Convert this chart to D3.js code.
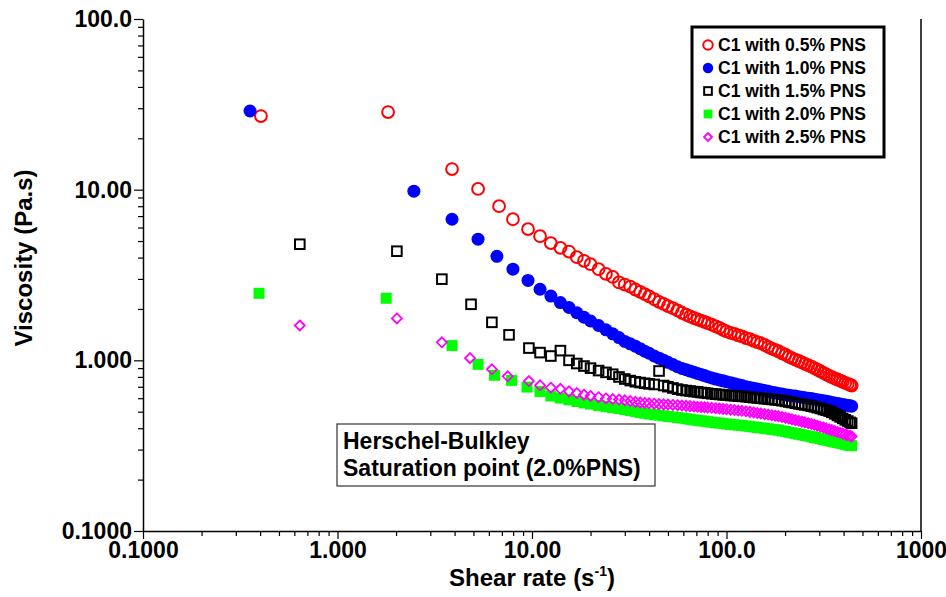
<!DOCTYPE html>
<html>
<head>
<meta charset="utf-8">
<script src="https://d3js.org/d3.v7.min.js"></script>
<style>
  body { margin: 0; background: #fff; }
  text { font-family: "Liberation Sans", Arial, sans-serif; font-weight: bold; fill: #000; }
</style>
</head>
<body>
<svg id="chart"></svg>
<script>
var W = 946, H = 597;
var plotLeft = 143, plotRight = 921, plotTop = 19, plotBottom = 531;

// axis ticks and labels
var xTicks = [0.1, 1, 10, 100, 1000];
var xTickLabels = ["0.1000", "1.000", "10.00", "100.0", "1000"];
var yTicks = [0.1, 1, 10, 100];
var yTickLabels = ["0.1000", "1.000", "10.00", "100.0"];

var seriesNames = ["C1 with 0.5% PNS", "C1 with 1.0% PNS", "C1 with 1.5% PNS", "C1 with 2.0% PNS", "C1 with 2.5% PNS"];
var seriesColors = ["#ff0000", "#0000ff", "#000000", "#00ff00", "#ff00ff"];

// low shear-rate points, read per series
var lowRate05 = [0.404, 1.82, 3.88, 5.28, 6.77, 7.98, 9.54];
var lowVisc05 = [27.0, 28.5, 13.2, 10.1, 8.0, 6.71, 5.87];
var lowRate10 = [0.355, 2.47, 3.88, 5.28, 6.6, 7.98, 9.54];
var lowVisc10 = [28.9, 9.8, 6.71, 5.13, 4.07, 3.42, 2.94];
var lowRate15 = [0.64, 2.02, 3.44, 4.86, 6.22, 7.62, 9.64];
var lowVisc15 = [4.79, 4.36, 2.99, 2.13, 1.67, 1.41, 1.18];
var lowRate20 = [0.395, 1.78, 3.88, 5.28, 6.41, 7.85, 9.43];
var lowVisc20 = [2.47, 2.31, 1.22, 0.947, 0.817, 0.763, 0.697];
var lowRate25 = [0.64, 2.02, 3.44, 4.80, 6.22, 7.5, 9.64];
var lowVisc25 = [1.60, 1.76, 1.275, 1.03, 0.886, 0.806, 0.756];

// dense part of the sweep (shear rate, 1/s)
var denseRate = [11, 12.5, 14, 15.5, 17, 18.5, 20, 22, 24, 26, 28, 30, 32, 34, 36, 38, 40,
  42.5, 45, 47.5, 50, 53, 56, 59, 62, 65, 68, 71, 74, 77, 80, 84, 88, 92, 96, 100,
  105, 110, 115, 120, 126, 132, 138, 144, 150, 157, 164, 171, 178, 185, 193, 201, 209, 217,
  226, 235, 244, 253, 263, 273, 283, 293, 304, 315, 326, 337, 348, 360, 372, 384, 396, 408, 420, 432, 440];

var visc05 = [5.34, 4.86, 4.56, 4.34, 4.02, 3.83, 3.66, 3.42, 3.21, 3.08, 2.86, 2.78, 2.70, 2.60, 2.52, 2.44, 2.37,
  2.28, 2.20, 2.14, 2.08, 2.02, 1.96, 1.90, 1.85, 1.81, 1.77, 1.74, 1.71, 1.68, 1.65, 1.62, 1.58, 1.55, 1.51, 1.48,
  1.45, 1.43, 1.40, 1.38, 1.35, 1.33, 1.30, 1.28, 1.26, 1.23, 1.20, 1.17, 1.15, 1.13, 1.10, 1.08, 1.05, 1.03,
  1.01, 0.991, 0.972, 0.954, 0.936, 0.918, 0.901, 0.882, 0.863, 0.845, 0.828, 0.811, 0.797, 0.784, 0.772, 0.760, 0.749, 0.738, 0.728, 0.718, 0.712];
var visc10 = [2.61, 2.38, 2.18, 2.04, 1.90, 1.79, 1.70, 1.60, 1.51, 1.43, 1.36, 1.29, 1.25, 1.21, 1.17, 1.13, 1.10,
  1.06, 1.03, 1.00, 0.973, 0.945, 0.917, 0.897, 0.881, 0.865, 0.852, 0.838, 0.826, 0.814, 0.802, 0.789, 0.777, 0.767, 0.758, 0.749,
  0.739, 0.729, 0.720, 0.712, 0.701, 0.694, 0.686, 0.679, 0.672, 0.665, 0.658, 0.651, 0.645, 0.639, 0.634, 0.629, 0.625, 0.621,
  0.617, 0.612, 0.608, 0.604, 0.600, 0.597, 0.592, 0.588, 0.583, 0.579, 0.575, 0.571, 0.567, 0.563, 0.559, 0.555, 0.551, 0.547, 0.544, 0.541, 0.539];
var visc15 = [1.11, 1.06, 1.14, 1.00, 0.958, 0.926, 0.900, 0.871, 0.850, 0.829, 0.799, 0.777, 0.761, 0.749, 0.741, 0.734, 0.728,
  0.722, 0.866, 0.712, 0.701, 0.689, 0.678, 0.670, 0.665, 0.661, 0.656, 0.653, 0.648, 0.645, 0.641, 0.637, 0.634, 0.631, 0.628, 0.626,
  0.622, 0.620, 0.617, 0.615, 0.612, 0.608, 0.605, 0.602, 0.599, 0.596, 0.593, 0.590, 0.587, 0.584, 0.580, 0.575, 0.570, 0.566,
  0.561, 0.556, 0.552, 0.548, 0.544, 0.539, 0.534, 0.528, 0.522, 0.515, 0.510, 0.504, 0.496, 0.486, 0.475, 0.466, 0.457, 0.448, 0.441, 0.433, 0.428];
var visc20 = [0.657, 0.618, 0.601, 0.587, 0.574, 0.563, 0.554, 0.543, 0.535, 0.528, 0.522, 0.515, 0.508, 0.502, 0.495, 0.490, 0.485,
  0.481, 0.477, 0.473, 0.469, 0.466, 0.462, 0.459, 0.455, 0.451, 0.448, 0.445, 0.442, 0.440, 0.437, 0.434, 0.431, 0.429, 0.426, 0.424,
  0.421, 0.419, 0.417, 0.415, 0.412, 0.410, 0.407, 0.404, 0.402, 0.399, 0.397, 0.394, 0.392, 0.390, 0.386, 0.383, 0.379, 0.376,
  0.373, 0.369, 0.366, 0.363, 0.360, 0.357, 0.353, 0.350, 0.347, 0.344, 0.341, 0.338, 0.335, 0.332, 0.330, 0.327, 0.325, 0.322, 0.319, 0.317, 0.316];
var visc25 = [0.714, 0.691, 0.681, 0.658, 0.643, 0.629, 0.618, 0.608, 0.598, 0.593, 0.589, 0.583, 0.577, 0.571, 0.567, 0.563, 0.560,
  0.557, 0.554, 0.552, 0.551, 0.548, 0.546, 0.543, 0.541, 0.539, 0.537, 0.534, 0.533, 0.531, 0.529, 0.527, 0.524, 0.522, 0.519, 0.517,
  0.514, 0.511, 0.508, 0.506, 0.503, 0.499, 0.495, 0.491, 0.488, 0.484, 0.481, 0.477, 0.474, 0.471, 0.466, 0.461, 0.456, 0.451,
  0.446, 0.442, 0.437, 0.433, 0.428, 0.424, 0.419, 0.414, 0.408, 0.404, 0.399, 0.394, 0.390, 0.385, 0.380, 0.376, 0.372, 0.368, 0.364, 0.361, 0.358];

function makeSeries(lowRate, lowVisc, dense) {
  var xs = lowRate.concat(denseRate), ys = lowVisc.concat(dense);
  return d3.range(Math.min(xs.length, ys.length)).map(function(i) { return {x: xs[i], y: ys[i]}; });
}
var series = [
  makeSeries(lowRate05, lowVisc05, visc05),
  makeSeries(lowRate10, lowVisc10, visc10),
  makeSeries(lowRate15, lowVisc15, visc15),
  makeSeries(lowRate20, lowVisc20, visc20),
  makeSeries(lowRate25, lowVisc25, visc25)
];

var svg = d3.select("#chart").attr("width", W).attr("height", H);

var x = d3.scaleLog().domain([0.1, 1000]).range([plotLeft, plotRight]);
var y = d3.scaleLog().domain([0.1, 100]).range([plotBottom, plotTop]);

// marker drawing, one style per series
function drawMarker(g, i, s) {
  var c = seriesColors[i];
  if (i === 0) g.append("circle").attr("r", 5.9 * s).attr("fill", "none").attr("stroke", c).attr("stroke-width", 2);
  else if (i === 1) g.append("circle").attr("r", 6.5 * s).attr("fill", c);
  else if (i === 2) g.append("rect").attr("x", -4.8 * s).attr("y", -4.8 * s).attr("width", 9.6 * s).attr("height", 9.6 * s)
    .attr("fill", "none").attr("stroke", c).attr("stroke-width", 2);
  else if (i === 3) g.append("rect").attr("x", -5.5 * s).attr("y", -5.5 * s).attr("width", 11 * s).attr("height", 11 * s).attr("fill", c);
  else g.append("path").attr("d", "M0," + (-5 * s) + "L" + (5 * s) + ",0L0," + (5 * s) + "L" + (-5 * s) + ",0Z")
    .attr("fill", "none").attr("stroke", c).attr("stroke-width", 1.8);
}

// data
series.forEach(function(pts, i) {
  svg.append("g").selectAll("g")
    .data(pts)
    .enter().append("g")
    .attr("transform", function(d) { return "translate(" + x(d.x) + "," + y(d.y) + ")"; })
    .each(function() { drawMarker(d3.select(this), i, 1); });
});

// axes
var axisColor = "#000";
var xMinor = x.ticks().filter(function(v) { return xTicks.indexOf(v) < 0; });
var yMinor = y.ticks().filter(function(v) { return yTicks.indexOf(v) < 0; });

var gx = svg.append("g").attr("transform", "translate(0," + plotBottom + ")");
gx.call(d3.axisBottom(x).tickValues(xTicks).tickSize(8).tickSizeOuter(0).tickPadding(3)
  .tickFormat(function(d, i) { return xTickLabels[i]; }));
gx.append("g").call(d3.axisBottom(x).tickValues(xMinor).tickSize(5).tickFormat("")).select(".domain").remove();

var gy = svg.append("g").attr("transform", "translate(" + plotLeft + ",0)");
gy.call(d3.axisLeft(y).tickValues(yTicks).tickSize(9).tickSizeOuter(0).tickPadding(2)
  .tickFormat(function(d, i) { return yTickLabels[i]; }));
gy.append("g").call(d3.axisLeft(y).tickValues(yMinor).tickSize(5).tickFormat("")).select(".domain").remove();

svg.selectAll(".domain").attr("stroke", axisColor).attr("stroke-width", 1.5);
svg.selectAll(".tick line").attr("stroke", axisColor).attr("stroke-width", 1.2);
svg.selectAll(".tick text").attr("font-family", "'Liberation Sans', Arial, sans-serif")
  .attr("font-weight", "bold").attr("font-size", 23).attr("fill", "#000");

// right border
svg.append("line").attr("x1", plotRight).attr("x2", plotRight).attr("y1", plotTop).attr("y2", plotBottom)
  .attr("stroke", axisColor).attr("stroke-width", 1.5);

// axis titles
var xt = svg.append("text").attr("x", (plotLeft + plotRight) / 2).attr("y", 586).attr("text-anchor", "middle").attr("font-size", 24);
xt.append("tspan").text("Shear rate (s");
xt.append("tspan").attr("dy", -10).attr("font-size", 14).text("-1");
xt.append("tspan").attr("dy", 10).text(")");

svg.append("text").attr("transform", "translate(32,258) rotate(-90)").attr("text-anchor", "middle")
  .attr("font-size", 24).text("Viscosity (Pa.s)");

// legend
var lg = svg.append("g");
lg.append("rect").attr("x", 692).attr("y", 27).attr("width", 192).attr("height", 130)
  .attr("fill", "#fff").attr("stroke", "#000").attr("stroke-width", 3);
seriesNames.forEach(function(name, i) {
  var row = lg.append("g").attr("transform", "translate(708," + (45 + i * 23) + ")");
  drawMarker(row, i, 0.8);
  row.append("text").attr("x", 10).attr("dy", "0.36em").attr("font-size", 17.5).text(name);
});

// annotation
var note = svg.append("g");
note.append("rect").attr("x", 337).attr("y", 424).attr("width", 318).attr("height", 62)
  .attr("fill", "#fff").attr("stroke", "#333").attr("stroke-width", 1.2);
note.append("text").attr("x", 343).attr("y", 449).attr("font-size", 23).text("Herschel-Bulkley");
note.append("text").attr("x", 343).attr("y", 476).attr("font-size", 23).text("Saturation point (2.0%PNS)");
</script>
</body>
</html>
